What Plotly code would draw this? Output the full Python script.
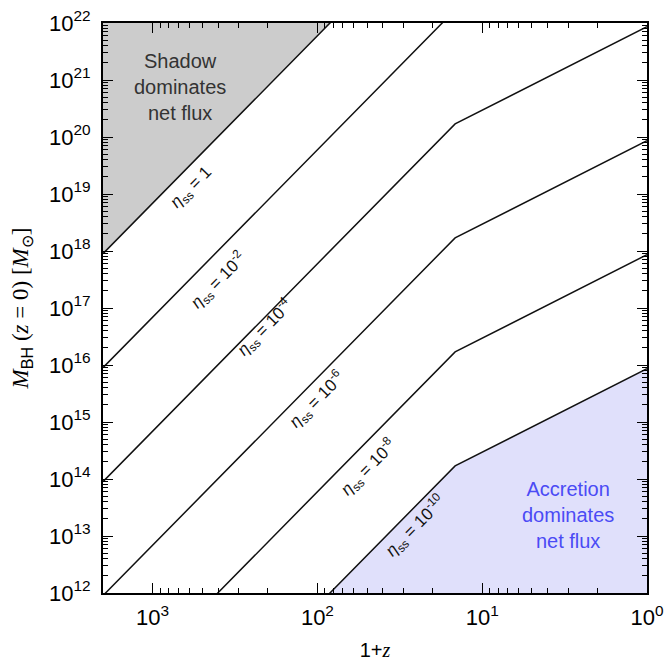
import numpy as np
import plotly.graph_objects as go

# 1+z sample points: left edge, break, right edge
one_plus_z = [2000, 14.6, 1]

eta_labels = ["1", "10<sup>-2</sup>", "10<sup>-4</sup>", "10<sup>-6</sup>", "10<sup>-8</sup>", "10<sup>-10</sup>"]

# M_BH(z=0) values along each curve at the points above
m_eta_0 = [9e17, 1.7e24, 8.6e25]
m_eta_2 = [9e15, 1.7e22, 8.6e23]
m_eta_4 = [9e13, 1.7e20, 8.6e21]
m_eta_6 = [9e11, 1.7e18, 8.6e19]
m_eta_8 = [9e9, 1.7e16, 8.6e17]
m_eta_10 = [9e7, 1.7e14, 8.6e15]
curves = [m_eta_0, m_eta_2, m_eta_4, m_eta_6, m_eta_8, m_eta_10]

# label positions (log10(1+z), log10 M)
label_x = [2.761, 2.603, 2.318, 2.002, 1.693, 1.402]
label_y = [19.10, 17.49, 16.65, 15.39, 14.21, 13.18]

x_ticks = [1000, 100, 10, 1]
x_ticktext = ["10<sup>3</sup>", "10<sup>2</sup>", "10<sup>1</sup>", "10<sup>0</sup>"]
y_ticks = [10.0 ** k for k in range(12, 23)]
y_ticktext = ["10<sup>%d</sup>" % k for k in range(12, 23)]

FONT = "Liberation Sans"
SERIF = "Liberation Serif"
fig = go.Figure()

# shaded regions
fig.add_trace(go.Scatter(
    x=one_plus_z + [1, 2000], y=m_eta_0 + [1e30, 1e30],
    fill="toself", fillcolor="rgb(204,204,204)", line=dict(width=0),
    mode="lines", hoverinfo="skip", showlegend=False))
fig.add_trace(go.Scatter(
    x=one_plus_z + [1, 2000], y=m_eta_10 + [1e5, 1e5],
    fill="toself", fillcolor="rgb(224,224,251)", line=dict(width=0),
    mode="lines", hoverinfo="skip", showlegend=False))

for m in curves:
    fig.add_trace(go.Scatter(x=one_plus_z, y=m, mode="lines",
                             line=dict(color="#111", width=1.5),
                             showlegend=False))

for lab, lx, ly in zip(eta_labels, label_x, label_y):
    fig.add_annotation(x=lx, y=ly, xref="x", yref="y",
                       text="<i>η</i><sub>ss</sub> = " + lab,
                       showarrow=False, textangle=-45.5,
                       font=dict(family=FONT, size=17, color="#111"))

fig.add_annotation(x=2.834, y=20.877, xref="x", yref="y",
                   text="Shadow<br>dominates<br>net flux", showarrow=False,
                   font=dict(family=FONT, size=20, color="#333"))
fig.add_annotation(x=0.479, y=13.37, xref="x", yref="y",
                   text="Accretion<br>dominates<br>net flux", showarrow=False,
                   font=dict(family=FONT, size=20, color="rgb(75,75,245)"))

axis_common = dict(
    type="log", showgrid=False, zeroline=False, showline=True,
    linecolor="black", linewidth=2, mirror="allticks", automargin=False,
    ticks="inside", ticklen=10, tickwidth=1.3, tickcolor="black",
    minor=dict(ticks="inside", ticklen=5, tickwidth=1, tickcolor="black",
               dtick="D1", showgrid=False),
    tickfont=dict(family=FONT, size=22, color="black"),
)

ytitle = ("<i>M</i><sub><span style='font-family:Liberation Sans'>BH</span></sub>"
          " (<i>z</i> = 0) [<i>M</i><sub>⊙</sub>]")

fig.update_xaxes(**axis_common, range=[np.log10(2000), 0],
                 tickvals=x_ticks, ticktext=x_ticktext, ticklabelstandoff=4,
                 title=dict(text="1+<i><span style='font-family:Liberation Serif'>z</span></i>",
                            font=dict(family=FONT, size=20), standoff=14))
fig.update_yaxes(**axis_common, range=[12, 22],
                 tickvals=y_ticks, ticktext=y_ticktext, ticklabelstandoff=6,
                 title=dict(text=ytitle, font=dict(family=SERIF, size=23), standoff=14))

fig.update_layout(
    width=665, height=661, plot_bgcolor="white", paper_bgcolor="white",
    margin=dict(l=103, r=18, t=23, b=68),
    font=dict(family=FONT, color="black"),
)

fig.write_html("out.html")
